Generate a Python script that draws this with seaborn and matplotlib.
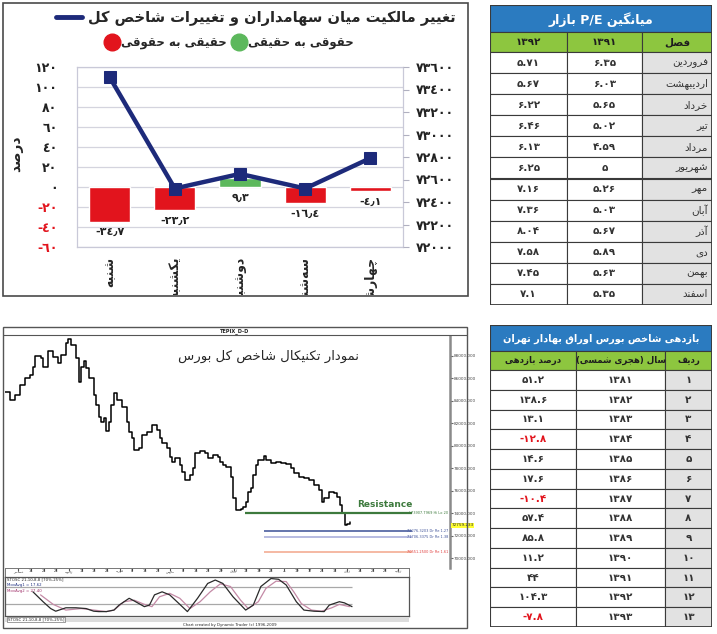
import re
import matplotlib
matplotlib.use("Agg")
import matplotlib.pyplot as plt
from matplotlib.lines import Line2D
from matplotlib.patches import Rectangle
from matplotlib.transforms import Bbox, TransformedBbox
import pandas as pd
import seaborn as sns

# ---------------- data ----------------
# weekly change of ownership (top-left)
week_days = ['شنبه', 'یکشنبه', 'دوشنبه', 'سه\u200cشنبه', 'چهارشنبه']
owner_change = [-34.7, -23.2, 9.3, -16.4, -4.1]
owner_labels = ['-٣٤٫٧', '-٢٣٫٢', '٩٫٣', '-١٦٫٤', '-٤٫١']
index_close = [73510, 72520, 72650, 72520, 72790]
pct_ticks = [-60, -40, -20, 0, 20, 40, 60, 80, 100, 120]
pct_tick_labels = ['-٦٠', '-٤٠', '-٢٠', '٠', '٢٠', '٤٠', '٦٠', '٨٠', '١٠٠', '١٢٠']
idx_ticks = [72000, 72200, 72400, 72600, 72800, 73000, 73200, 73400, 73600]
idx_tick_labels = ['٧٢٠٠٠', '٧٢٢٠٠', '٧٢٤٠٠', '٧٢٦٠٠', '٧٢٨٠٠', '٧٣٠٠٠', '٧٣٢٠٠', '٧٣٤٠٠', '٧٣٦٠٠']

# P/E table (top-right)
pe_months = ['فروردین', 'اردیبهشت', 'خرداد', 'تیر', 'مرداد', 'شهریور',
             'مهر', 'آبان', 'آذر', 'دی', 'بهمن', 'اسفند']
pe_1391 = [6.35, 6.03, 5.65, 5.02, 4.59, 5, 5.26, 5.03, 5.67, 5.89, 5.63, 5.35]
pe_1392 = [5.71, 5.67, 6.22, 6.46, 6.13, 6.25, 7.16, 7.36, 8.04, 7.58, 7.45, 7.1]

# yearly return table (bottom-right)
ret_years = [1381, 1382, 1383, 1384, 1385, 1386, 1387, 1388, 1389, 1390, 1391, 1392, 1393]
ret_pct = [51.2, 138.6, 13.1, -12.8, 14.6, 17.6, -10.4, 57.4, 85.8, 11.2, 44, 104.3, -7.8]

# technical chart (bottom-left)
price_day = [2, 4, 6, 8, 10, 12, 13, 14, 16, 17, 19, 21, 23, 24, 26, 27, 28, 30, 31, 32,
             33, 34, 35, 37, 38, 39, 40, 41, 42, 43, 44, 45, 46, 48, 50, 51, 52, 53, 55, 56,
             58, 60, 62, 63, 64, 66, 67, 68, 69, 71, 72, 73, 75, 76, 77, 79, 81, 82, 84, 86,
             87, 88, 89, 91, 92, 93, 95, 96, 97, 98, 99, 100, 101, 102, 104, 105, 107, 109, 111, 113,
             115, 116, 118, 120, 122, 124, 126, 127, 128, 130, 132, 133, 134, 135, 136, 137, 138]
price_val = [84820, 84080, 84520, 85410, 86010, 86300, 87050, 88030, 87790, 87050, 88440, 87940, 87350, 88090, 89130, 89510, 88980, 87790, 85650, 87050,
             87550, 86900, 86010, 84520, 83630, 82590, 82150, 82500, 81320, 82150, 83630, 84670, 84080, 83480, 82150, 81260, 80660, 79620, 79770, 80960,
             81260, 81850, 81400, 80660, 80220, 79770, 79030, 78580, 78940, 78290, 77690, 76950, 77400, 77990, 79330, 79530, 79330, 78880, 79180, 79030,
             78580, 78290, 78140, 77250, 75320, 74280, 74370, 74570, 75020, 75910, 76210, 77400, 78290, 78730, 79120, 78730, 78440, 78580, 78440, 78350,
             77990, 77540, 77250, 77100, 76950, 76500, 76060, 75020, 75320, 75910, 75760, 75470, 74720, 73980, 72940, 73000, 73180]
price_ticks = [70000, 72000, 74000, 76000, 78000, 80000, 82000, 84000, 86000, 88000]
level_val = [73980, 72440, 71900, 70560]
level_start = [96.7, 104, 104, 104]
level_names = ['L73907.7969 Hi Lo 20', '72276.3203 Dr Re 1.27', '71706.3375 Dr Re 1.38', '70551.2500 Dr Re 1.61']
level_colors = ['#3d7a3d', '#3b4f96', '#a3a8d8', '#f2a58a']
level_text_colors = ['#3d7a3d', '#3b4f96', '#3b4f96', '#e03a3a']
date_ticks = [7.2, 12.2, 17.2, 22.2, 27.2, 32.2, 37.2, 42.2, 47.2, 52.2, 57.2, 62.2, 67.2, 72.2, 77.2, 82.2, 87.2,
              92.2, 97.2, 102.2, 107.2, 112.2, 117.2, 122.2, 127.2, 132.2, 137.2, 142.2, 147.2, 152.2, 157.2]
date_labels = ['دسامبر', '14', '21', '28', 'ژانویه', '11', '18', '25', 'فوریه', '8', '15', '22', 'مارس', '8', '15', '22', '29',
               'آوریل', '12', '19', '26', 'مه', '10', '17', '24', '31', 'ژوئن', '14', '21', '28', 'ژوئیه']
osc_k_day = [13, 17, 20, 22, 26, 30, 34, 37, 39, 42, 45, 47, 51, 53, 57, 59, 61, 64, 67, 71,
             74, 78, 82, 85, 88, 92, 97, 100, 103, 107, 110, 113, 117, 120, 124, 128, 130, 134, 136, 139]
osc_k = [61, 35, 17, 10, 19, 19, 17, 10, 9, 9, 13, 26, 44, 37, 22, 26, 53, 61, 53, 28,
         9, 44, 83, 92, 83, 48, 13, 26, 75, 96, 94, 79, 35, 13, 10, 9, 26, 35, 32, 22]
osc_d_day = [16, 21, 26, 32, 37, 42, 45, 49, 53, 57, 60, 63, 67, 71, 75, 79, 83, 87, 91, 95,
             98, 102, 105, 109, 113, 116, 119, 123, 127, 131, 134, 138]
osc_d = [53, 28, 13, 17, 13, 9, 13, 35, 39, 28, 22, 48, 57, 44, 17, 35, 61, 82, 75, 39,
         17, 35, 70, 89, 88, 61, 30, 13, 10, 19, 28, 22]
osc_levels = [75, 28]

# ---------------- helpers ----------------
FORMS = {
    'ا': (0xFE8D, 0xFE8E, None, None), 'آ': (0xFE81, 0xFE82, None, None),
    'ب': (0xFE8F, 0xFE90, 0xFE91, 0xFE92), 'پ': (0xFB56, 0xFB57, 0xFB58, 0xFB59),
    'ت': (0xFE95, 0xFE96, 0xFE97, 0xFE98), 'ج': (0xFE9D, 0xFE9E, 0xFE9F, 0xFEA0),
    'چ': (0xFB7A, 0xFB7B, 0xFB7C, 0xFB7D), 'ح': (0xFEA1, 0xFEA2, 0xFEA3, 0xFEA4),
    'خ': (0xFEA5, 0xFEA6, 0xFEA7, 0xFEA8), 'د': (0xFEA9, 0xFEAA, None, None),
    'ذ': (0xFEAB, 0xFEAC, None, None), 'ر': (0xFEAD, 0xFEAE, None, None),
    'ز': (0xFEAF, 0xFEB0, None, None), 'ژ': (0xFB8A, 0xFB8B, None, None),
    'س': (0xFEB1, 0xFEB2, 0xFEB3, 0xFEB4), 'ش': (0xFEB5, 0xFEB6, 0xFEB7, 0xFEB8),
    'ص': (0xFEB9, 0xFEBA, 0xFEBB, 0xFEBC), 'ع': (0xFEC9, 0xFECA, 0xFECB, 0xFECC),
    'غ': (0xFECD, 0xFECE, 0xFECF, 0xFED0), 'ف': (0xFED1, 0xFED2, 0xFED3, 0xFED4),
    'ق': (0xFED5, 0xFED6, 0xFED7, 0xFED8), 'ک': (0xFB8E, 0xFB8F, 0xFB90, 0xFB91),
    'گ': (0xFB92, 0xFB93, 0xFB94, 0xFB95), 'ل': (0xFEDD, 0xFEDE, 0xFEDF, 0xFEE0),
    'م': (0xFEE1, 0xFEE2, 0xFEE3, 0xFEE4), 'ن': (0xFEE5, 0xFEE6, 0xFEE7, 0xFEE8),
    'و': (0xFEED, 0xFEEE, None, None), 'ه': (0xFEE9, 0xFEEA, 0xFEEB, 0xFEEC),
    'ی': (0xFBFC, 0xFBFD, 0xFBFE, 0xFBFF), 'ئ': (0xFE89, 0xFE8A, 0xFE8B, 0xFE8C),
}


def fa(s):
    # shape persian letters and put them in visual order (no bidi lib here)
    out = []
    for i, ch in enumerate(s):
        if ch == '\u200c':
            continue
        if ch not in FORMS:
            out.append(ch)
            continue
        prev = s[i - 1] if i > 0 else ''
        nxt = s[i + 1] if i + 1 < len(s) else ''
        p = prev in FORMS and FORMS[prev][2] is not None
        n = nxt in FORMS and FORMS[ch][2] is not None
        iso, fin, ini, med = FORMS[ch]
        out.append(chr(med if p and n else fin if p else ini if n else iso))
    txt = ''.join(out)[::-1]
    txt = re.sub(r'[A-Za-z0-9/.]+', lambda m: m.group(0)[::-1], txt)
    return txt.translate(str.maketrans('()', ')('))


FA_DIGITS = str.maketrans('0123456789', '۰۱۲۳۴۵۶۷۸۹')


def to_fa(v):
    return str(v).translate(FA_DIGITS)


sns.set_style('white')
plt.rcParams['font.family'] = ['DejaVu Sans']

W, H = 717, 634
fig = plt.figure(figsize=(W / 100, H / 100), dpi=100)


def box(x0, y0, x1, y1):
    return fig.add_axes([x0 / W, 1 - y1 / H, (x1 - x0) / W, (y1 - y0) / H])


def frame(x0, y0, x1, y1, lw=1.2, ec='#4a4a4a'):
    fig.add_artist(Rectangle((x0 / W, 1 - y1 / H), (x1 - x0) / W, (y1 - y0) / H,
                             transform=fig.transFigure, fill=False, ec=ec, lw=lw))


RED = '#e2141d'
GREEN = '#5cb85c'
NAVY = '#1d2a7a'
BLUE = '#2b7bc0'
LIME = '#8dc63f'

# ---------------- top-left chart ----------------
frame(3, 3, 468, 296)
ax1 = box(77, 67, 403, 247)
df_flow = pd.DataFrame({'day': [fa(d) for d in week_days], 'pct': owner_change, 'idx': index_close})
bar_colors = [RED if v < 0 else GREEN for v in owner_change]
sns.barplot(data=df_flow, x='day', y='pct', hue='day', palette=bar_colors, legend=False,
            width=0.63, saturation=1, ax=ax1, zorder=3)
ax1.set_xlim(-0.5, 4.5)
ax1.set_ylim(-60, 120)
ax1.set_yticks(pct_ticks)
ax1.set_yticklabels(pct_tick_labels, fontsize=9, fontweight='bold')
for t, v in zip(ax1.get_yticklabels(), pct_ticks):
    t.set_color(RED if v < 0 else '#222222')
ax1.yaxis.grid(True, color='#d4d4de', lw=0.9)
ax1.set_axisbelow(True)
ax1.tick_params(axis='y', length=0, pad=14)
ax1.tick_params(axis='x', length=0, pad=7, labelsize=9, rotation=90)
clip = TransformedBbox(Bbox.from_extents(3 / W, 1 - 295 / H, 468 / W, 1), fig.transFigure)
for t in ax1.get_xticklabels():
    t.set_fontweight('bold')
    t.set_va('top')
    t.set_clip_box(clip)
    t.set_clip_on(True)
ax1.set_xlabel('')
ax1.set_ylabel(fa('درصد'), fontsize=10, fontweight='bold')
ax1.yaxis.set_label_coords(-0.165, 0.52)
for sp in ax1.spines.values():
    sp.set_color('#c9c9d8')
    sp.set_linewidth(0.9)
for i, (v, lab) in enumerate(zip(owner_change, owner_labels)):
    ax1.annotate(lab, (i, min(v, 0)), xytext=(0, -4), textcoords='offset points',
                 ha='center', va='top', fontsize=8, fontweight='bold', color='#222222')

ax2 = ax1.twinx()
sns.lineplot(x=df_flow.index, y=df_flow['idx'], ax=ax2, color=NAVY, lw=3.2, marker='s',
             markersize=9, markeredgecolor=NAVY, zorder=4)
ax2.set_ylim(72000, 73600)
ax2.set_yticks(idx_ticks)
ax2.set_yticklabels(idx_tick_labels, fontsize=9, fontweight='bold', color='#222222')
ax2.tick_params(axis='y', length=4, color='#b0b0c0', pad=5)
ax2.set_ylabel('')
for sp in ax2.spines.values():
    sp.set_visible(False)

leg1 = ax1.legend([Line2D([], [], color=NAVY, lw=3.5)],
                  [fa('تغییر مالکیت میان سهامداران و تغییرات شاخص کل')],
                  loc='center left', bbox_to_anchor=(56 / W, 1 - 18 / H), bbox_transform=fig.transFigure,
                  frameon=False, prop=dict(size=10.5, weight='bold'), handlelength=1.8,
                  handletextpad=0.4, borderpad=0, borderaxespad=0)
ax1.add_artist(leg1)
ax1.legend([Line2D([], [], ls='', marker='o', color=RED, markersize=12),
            Line2D([], [], ls='', marker='o', color=GREEN, markersize=12)],
           [fa('حقیقی به حقوقی'), fa('حقوقی به حقیقی')], ncol=2,
           loc='center left', bbox_to_anchor=(106 / W, 1 - 43 / H), bbox_transform=fig.transFigure,
           frameon=False, prop=dict(size=8.5, weight='bold'), handlelength=1.0,
           handletextpad=0.3, columnspacing=0.5, borderpad=0, borderaxespad=0)


# ---------------- tables ----------------
def draw_table(ax, width, height, title, header, columns, edges, title_h, head_h,
               gray_col, align, text_colors=None, title_size=9, head_size=7.5):
    n = len(columns[0])
    row_h = (height - title_h - head_h) / n
    ax.set_xlim(0, width)
    ax.set_ylim(height, 0)
    ax.axis('off')
    ec = '#3a3a3a'
    ax.add_patch(Rectangle((0, 0), width, title_h, fc=BLUE, ec=ec, lw=0.8))
    ax.text(width / 2, title_h / 2 + 1, title, ha='center', va='center', color='white',
            fontsize=title_size, fontweight='bold')
    for c in range(len(header)):
        x0, x1 = edges[c], edges[c + 1]
        ax.add_patch(Rectangle((x0, title_h), x1 - x0, head_h, fc=LIME, ec=ec, lw=0.8))
        ax.text((x0 + x1) / 2, title_h + head_h / 2, header[c], ha='center', va='center',
                fontsize=head_size, fontweight='bold', color='#1e1e1e')
        for r, val in enumerate(columns[c]):
            y0 = title_h + head_h + r * row_h
            fc = '#e2e2e2' if c == gray_col else 'white'
            ax.add_patch(Rectangle((x0, y0), x1 - x0, row_h, fc=fc, ec=ec, lw=0.8))
            col = text_colors[c][r] if text_colors else '#333333'
            if align[c] == 'right':
                ax.text(x1 - 4, y0 + row_h / 2, val, ha='right', va='center', fontsize=7.5, color=col)
            else:
                ax.text((x0 + x1) / 2, y0 + row_h / 2, val, ha='center', va='center',
                        fontsize=7.5, color=col, fontweight='bold')
    ax.add_patch(Rectangle((0, 0), width, height, fill=False, ec=ec, lw=1.3))


ax_pe = box(490, 5, 712, 305)
draw_table(ax_pe, 222, 300, fa('میانگین P/E بازار'),
           [to_fa(1392), to_fa(1391), fa('فصل')],
           [[to_fa(v) for v in pe_1392], [to_fa(v) for v in pe_1391], [fa(m) for m in pe_months]],
           [0, 77, 152, 222], 27, 20, 2, ['center', 'center', 'right'], title_size=9)

ax_ret = box(490, 325, 712, 627)
ret_txt = [('-' + to_fa(-v)) if v < 0 else to_fa(v) for v in ret_pct]
ret_col = [RED if v < 0 else '#333333' for v in ret_pct]
draw_table(ax_ret, 222, 302, fa('بازدهی شاخص بورس اوراق بهادار تهران'),
           [fa('درصد بازدهی'), fa('سال (هجری شمسی)'), fa('ردیف')],
           [ret_txt, [to_fa(y) for y in ret_years], [to_fa(i + 1) for i in range(len(ret_years))]],
           [0, 86, 175, 222], 26, 19, 2, ['center', 'center', 'center'],
           text_colors=[ret_col, ['#333333'] * 13, ['#333333'] * 13], title_size=7.0, head_size=6.2)

# ---------------- technical chart ----------------
frame(3, 327, 467, 628, lw=1.0, ec='#555555')
fig.add_artist(Line2D([3 / W, 467 / W], [1 - 335 / H, 1 - 335 / H], transform=fig.transFigure,
                      color='#555555', lw=0.8))
fig.text(235 / W, 1 - 331 / H, 'TEPIX_D-D', fontsize=3.6, fontweight='bold', ha='center', va='center')

axp = box(5, 336, 450, 568)
sns.lineplot(x=price_day, y=price_val, ax=axp, color='black', lw=1.1, drawstyle='steps-post')
axp.set_xlim(1.97, 177.6)
axp.set_ylim(69110, 89780)
for v, x0, c, lab, tc in zip(level_val, level_start, level_colors, level_names, level_text_colors):
    axp.hlines(v, x0, 162.6, color=c, lw=1.6 if c == level_colors[0] else 1.1)
    axp.text(176.8, v, lab, fontsize=2.5, color=tc, va='center', ha='right')
axp.text(152, 74810, 'Resistance', fontsize=6.5, fontweight='bold', color='#3d7a3d',
         ha='center', va='center')
axp.text(105.8, 88000, fa('نمودار تکنیکال شاخص کل بورس'), fontsize=9.5, ha='center', va='center')
axp.yaxis.tick_right()
axp.set_yticks(price_ticks)
axp.set_yticklabels(['%d.000' % v for v in price_ticks], fontsize=3.0, color='#444444')
axp.tick_params(axis='y', length=2, pad=1, color='#666666')
axp.set_xticks([])
axp.text(1.003, price_val[-1] - 250, '72759.233', transform=axp.get_yaxis_transform(),
         fontsize=3.0, va='center', ha='left', bbox=dict(fc='#ffff33', ec='none', pad=0.4))
for k, sp in axp.spines.items():
    sp.set_visible(k == 'right')
axp.spines['right'].set_color('#8a8a8a')
axp.spines['right'].set_linewidth(1.8)

axd = box(5, 568, 409, 577)
axd.set_xlim(1.97, 161.5)
axd.set_yticks([])
axd.set_xticks(date_ticks)
axd.set_xticklabels([fa(t) for t in date_labels], fontsize=2.5, color='#333333')
axd.tick_params(axis='x', top=True, bottom=False, direction='in', length=2, pad=-5.8, color='#555555')
for sp in axd.spines.values():
    sp.set_color('#777777')
    sp.set_linewidth(0.7)

axo = box(5, 577, 409, 616)
axo.hlines(osc_levels, 1.97, osc_k_day[-1], color='#a8a8a8', lw=0.9)
sns.lineplot(x=osc_d_day, y=osc_d, ax=axo, color='#c48aa6', lw=0.9)
sns.lineplot(x=osc_k_day, y=osc_k, ax=axo, color='#2a2a2a', lw=0.9)
axo.set_xlim(1.97, 161.5)
axo.set_ylim(-2.6, 100)
axo.set_xticks([])
axo.set_yticks([])
for sp in axo.spines.values():
    sp.set_color('#555555')
    sp.set_linewidth(0.9)
axo.text(0.005, 0.93, 'STOSC 21,10,8,8 [70%-25%]', transform=axo.transAxes, fontsize=2.8, va='center')
axo.text(0.005, 0.79, 'MovAvg1 = 17.62', transform=axo.transAxes, fontsize=2.8, va='center', color='#1e2f80')
axo.text(0.005, 0.65, 'MovAvg2 = 27.40', transform=axo.transAxes, fontsize=2.8, va='center', color='#a0306a')

fig.add_artist(Rectangle((5 / W, 1 - 622 / H), 404 / W, 5 / H, transform=fig.transFigure,
                         fc='#dcdcdc', ec='none'))
fig.text(8 / W, 1 - 619.5 / H, 'STOSC 21,10,8,8 [70%-25%]', fontsize=2.8, va='center',
         bbox=dict(fc='white', ec='#555555', lw=0.4, pad=0.4))
fig.text(230 / W, 1 - 625 / H, 'Chart created by Dynamic Trader (c) 1996-2009', fontsize=2.8,
         ha='center', va='center')

fig.savefig('out.png', dpi=100, facecolor='white')
